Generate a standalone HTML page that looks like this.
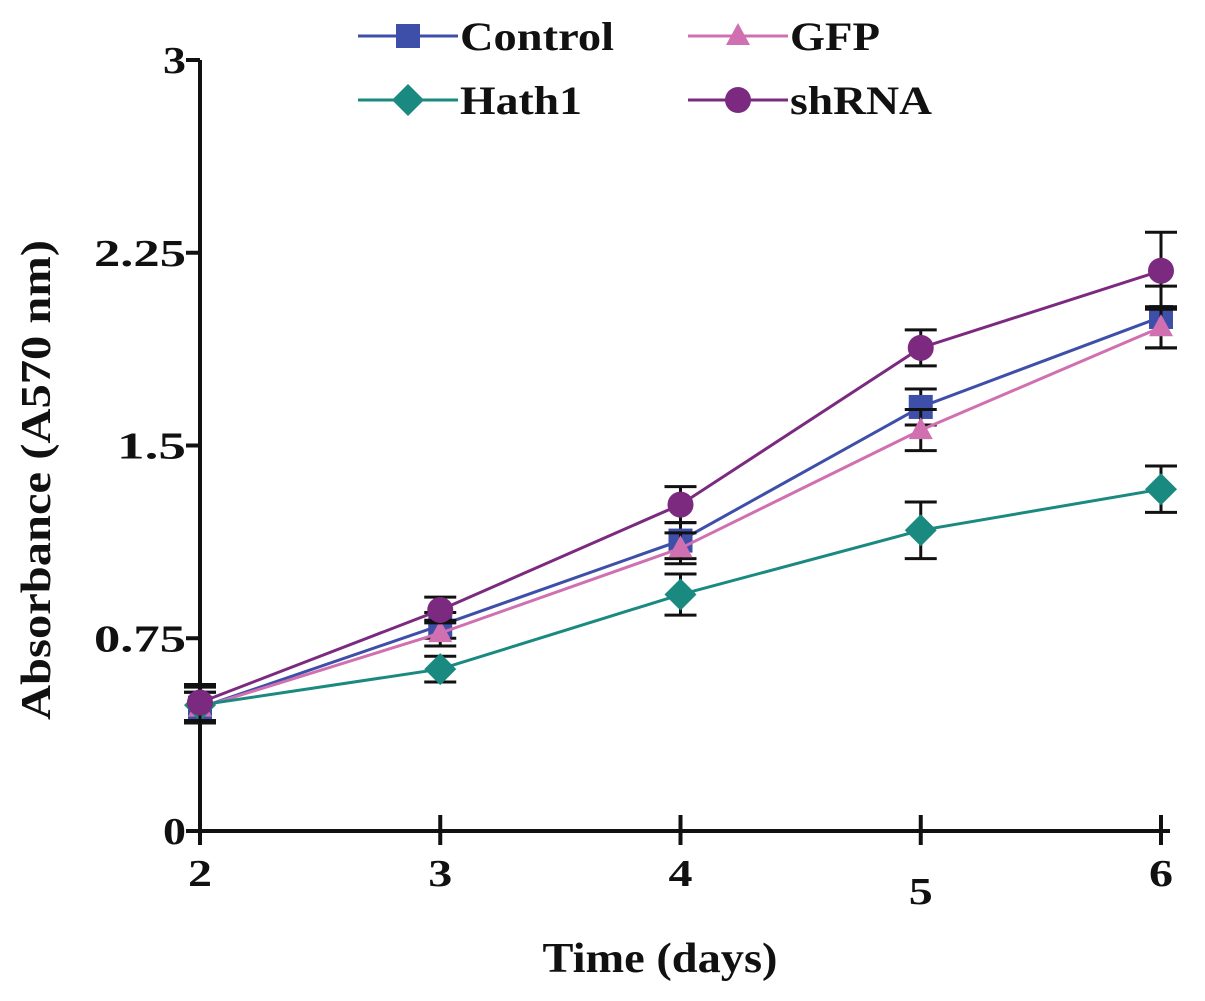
<!DOCTYPE html>
<html><head><meta charset="utf-8"><style>
body{margin:0;background:#fff}
svg text{font-family:"Liberation Serif",serif;font-weight:bold;fill:#111}
</style></head><body>
<svg id="c" width="1205" height="996"></svg>
<script>
const days=[2,3,4,5,6];
const yTicks=[0,0.75,1.5,2.25,3];
const yTickLabels=["0","0.75","1.5","2.25","3"];
const controlVals=[0.48,0.80,1.13,1.65,2.00];
const controlErr=[0.06,0.05,0.07,0.07,0.12];
const gfpVals=[0.48,0.77,1.10,1.56,1.96];
const gfpErr=[0.06,0.05,0.06,0.08,0.08];
const hathVals=[0.49,0.63,0.92,1.17,1.33];
const hathErr=[0.07,0.05,0.08,0.11,0.09];
const shVals=[0.50,0.86,1.27,1.88,2.18];
const shErr=[0.07,0.05,0.07,0.07,0.15];

const svg=document.getElementById('c');const NS='http://www.w3.org/2000/svg';
function X(d){return 200+(d-2)*240.25;}
function Y(v){return 831-v*257;}
function mk(t,a,p){const e=document.createElementNS(NS,t);for(const k in a)e.setAttribute(k,a[k]);(p||svg).appendChild(e);return e;}
const ax=mk('g',{});


mk('line',{x1:200,y1:Y(3),x2:200,y2:831,stroke:'#111','stroke-width':4},ax);
mk('line',{x1:198,y1:831,x2:1170,y2:831,stroke:'#111','stroke-width':4},ax);
yTicks.forEach((v,i)=>{
 mk('line',{x1:186,y1:Y(v),x2:200,y2:Y(v),stroke:'#111','stroke-width':4},ax);
 const s=yTickLabels[i];
 const t=mk('text',{x:186,y:Y(v)+13,'text-anchor':'end','font-size':38,textLength:s.length*23,lengthAdjust:'spacingAndGlyphs'},ax);t.textContent=s;
 
 
});
days.forEach(d=>{
 mk('line',{x1:X(d),y1:815,x2:X(d),y2:845,stroke:'#111','stroke-width':4},ax);
 const t=mk('text',{x:X(d),y:d===5?904:886,'text-anchor':'middle','font-size':38,textLength:24,lengthAdjust:'spacingAndGlyphs'},ax);t.textContent=d;
 
 
});
const xt=mk('text',{x:660,y:972,'text-anchor':'middle','font-size':42,textLength:235,lengthAdjust:'spacingAndGlyphs'});xt.textContent='Time (days)';


const yt=mk('text',{x:50,y:480,'text-anchor':'middle','font-size':42,textLength:480,lengthAdjust:'spacingAndGlyphs',transform:'rotate(-90 50 480)'});yt.textContent='Absorbance (A570 nm)';



function marker(g,shape,x,y,c){
 if(shape==='sq')mk('rect',{x:x-12,y:y-12,width:24,height:24,fill:c},g);
 else if(shape==='tri')mk('polygon',{points:`${x},${y-13} ${x+12},${y+9} ${x-12},${y+9}`,fill:c},g);
 else if(shape==='dia')mk('polygon',{points:`${x},${y-16} ${x+16},${y} ${x},${y+16} ${x-16},${y}`,fill:c},g);
 else mk('circle',{cx:x,cy:y,r:13,fill:c},g);
}
const series=[
 {name:'control',vals:controlVals,err:controlErr,c:'#3d4fa8',s:'sq'},
 {name:'gfp',vals:gfpVals,err:gfpErr,c:'#d070b0',s:'tri'},
 {name:'hath1',vals:hathVals,err:hathErr,c:'#1a8a80',s:'dia'},
 {name:'shrna',vals:shVals,err:shErr,c:'#7b2a80',s:'circ'}];
series.forEach(S=>{
 const g=mk('g',{});
 
 
 S.vals.forEach((v,i)=>{const x=X(days[i]);const e=S.err[i];
  mk('line',{x1:x,y1:Y(v+e),x2:x,y2:Y(v-e),stroke:'#111','stroke-width':3},g);
  mk('line',{x1:x-16,y1:Y(v+e),x2:x+16,y2:Y(v+e),stroke:'#111','stroke-width':3},g);
  mk('line',{x1:x-16,y1:Y(v-e),x2:x+16,y2:Y(v-e),stroke:'#111','stroke-width':3},g);});
 mk('polyline',{points:S.vals.map((v,i)=>X(days[i])+','+Y(v)).join(' '),fill:'none',stroke:S.c,'stroke-width':3},g);
 S.vals.forEach((v,i)=>marker(g,S.s,X(days[i]),Y(v),S.c));
});
const leg=[['Control',358,36,'#3d4fa8','sq',154],['GFP',688,36,'#d070b0','tri',90],['Hath1',358,100,'#1a8a80','dia',122],['shRNA',688,100,'#7b2a80','circ',142]];
leg.forEach(L=>{const g=mk('g',{});
 
 
 mk('line',{x1:L[1],y1:L[2],x2:L[1]+100,y2:L[2],stroke:L[3],'stroke-width':3},g);
 marker(g,L[4],L[1]+50,L[2],L[3]);
 const t=mk('text',{x:L[1]+102,y:L[2]+14,'font-size':40,textLength:L[5],lengthAdjust:'spacingAndGlyphs'},g);t.textContent=L[0];});
</script>
</body></html>
